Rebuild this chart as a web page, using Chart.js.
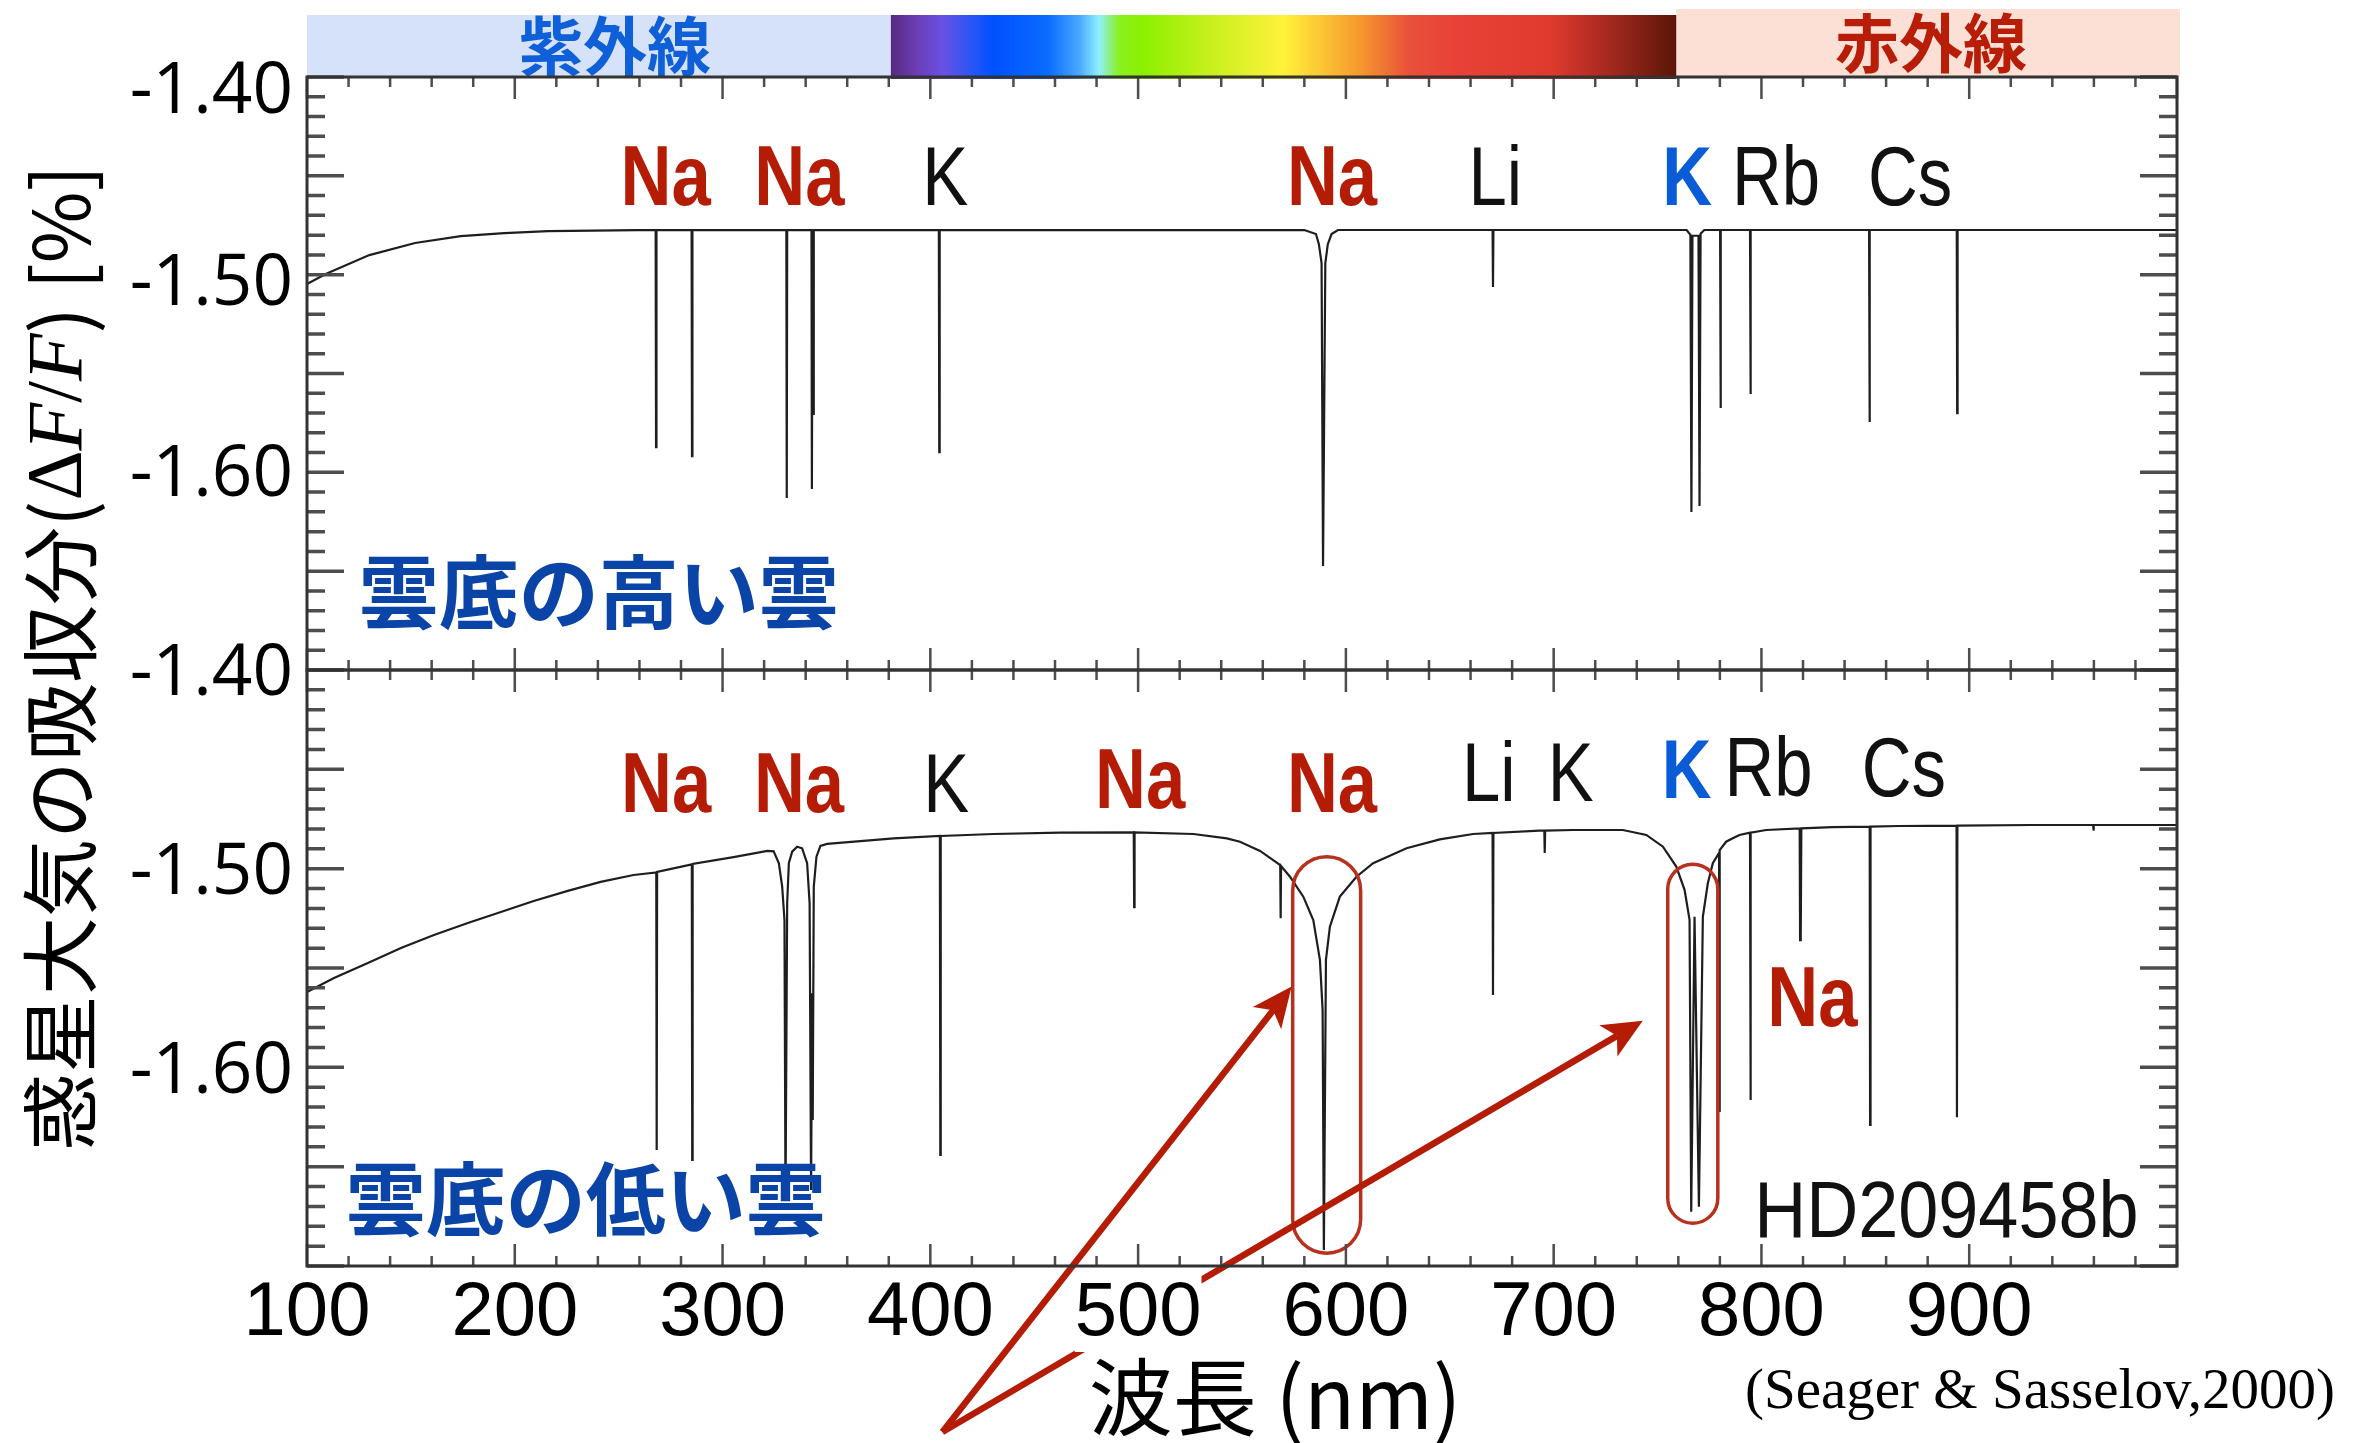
<!DOCTYPE html>
<html lang="ja">
<head>
<meta charset="utf-8">
<title>HD209458b 惑星大気の吸収スペクトル</title>
<script src="https://cdn.jsdelivr.net/npm/chart.js@4.4.1/dist/chart.umd.min.js"></script>
<style>
  html, body { margin: 0; padding: 0; background: #fff; }
  #wrap { position: relative; width: 2374px; height: 1443px; overflow: hidden; }
  canvas { position: absolute; left: 0; top: 0; }
</style>
</head>
<body>
<div id="wrap">
  <canvas id="highCloud" width="2374" height="1443"></canvas>
  <canvas id="lowCloud" width="2374" height="1443"></canvas>
</div>
<script>
// ---------------------------------------------------------------
// Spectrum data: wavelength (nm) and absorption ΔF/F (%)
// ---------------------------------------------------------------

// Upper panel: high cloud base
const highWave = [
  100, 109, 130, 152, 174, 195, 216, 259,
  267.8, 268.0, 268.2,
  285.1, 285.3, 285.5,
  330.7, 330.9, 331.1,
  342.8, 343.0, 343.3, 343.6, 343.9,
  404.1, 404.3, 404.5,
  580, 585.6, 587.0, 588.3, 589.0, 590.1, 591.3, 593.1, 596.2,
  670.6, 670.8, 671.0,
  764.0, 765.8, 766.3, 766.8, 768.2, 769.7, 770.2, 770.7, 772.5,
  780.1, 780.3, 780.5,
  794.5, 794.7, 794.9,
  851.8, 852.0, 852.2,
  894.0, 894.2, 894.4,
  1000
];
const highAbs = [
  -1.4997, -1.4945, -1.4846, -1.4783, -1.4747, -1.4731, -1.4721, -1.4716,
  -1.4716, -1.5849, -1.4716,
  -1.4716, -1.5896, -1.4716,
  -1.4716, -1.6115, -1.4716,
  -1.4716, -1.6068, -1.4716, -1.5676, -1.4716,
  -1.4716, -1.5875, -1.4716,
  -1.4715, -1.4736, -1.4789, -1.4888, -1.6470, -1.4888, -1.4789, -1.4736, -1.4715,
  -1.4715, -1.5013, -1.4715,
  -1.4715, -1.4740, -1.6188, -1.4745, -1.4745, -1.4745, -1.6157, -1.4735, -1.4715,
  -1.4715, -1.5645, -1.4715,
  -1.4715, -1.5572, -1.4715,
  -1.4715, -1.5718, -1.4715,
  -1.4715, -1.5671, -1.4715,
  -1.4715
];

// Lower panel: low cloud base
const lowWave = [
  100, 113.0, 129.3, 145.2, 161.1, 177.4, 193.3, 209.1, 225.5, 241.3, 257.2,
  268.1, 268.3, 268.5,
  285.2, 285.4, 285.6,
  305.3, 321.6, 324.6, 327.1, 328.7, 329.8, 330.3, 331.1, 331.9, 333.5,
  335.9, 338.3, 340.7, 341.9, 342.6, 343.1, 343.4, 343.9, 345.2, 347.1, 350.3,
  382.4, 404.6, 404.8, 405.0, 430.4, 462.5, 497.9, 498.1, 498.3,
  526.6, 542.7, 549.0, 558.7, 565.0, 568.4, 568.6, 568.8,
  573.1, 579.5, 584.3, 587.5, 588.8, 589.4, 590.4, 592.3, 597.1, 605.1,
  613.1, 629.2, 645.2, 661.2, 670.6, 670.8, 671.0,
  693.3, 695.5, 695.7, 695.9, 709.3, 733.3, 744.6, 752.6, 759.0, 763.0,
  765.4, 766.2, 767.8, 769.9, 771.8, 774.2, 776.6, 779.6, 779.8, 780.0,
  783.0, 786.2, 789.4, 794.5, 794.7, 794.9, 802.3,
  818.4, 818.6, 818.8, 819.0, 819.2, 834.3, 852.1, 852.3, 852.5, 866.3,
  893.9, 894.1, 894.3, 930.4, 959.6, 959.8, 960.0, 1000
];
const lowAbs = [
  -1.5593, -1.5523, -1.5447, -1.5372, -1.5307, -1.5246, -1.5191, -1.5136, -1.5085, -1.5040, -1.5005,
  -1.4992, -1.6387, -1.4990,
  -1.4952, -1.6437, -1.4950,
  -1.4915, -1.4884, -1.4886, -1.4946, -1.5064, -1.5231, -1.6638, -1.5147, -1.4946, -1.4888,
  -1.4863, -1.4871, -1.4946, -1.5147, -1.6588, -1.5600, -1.6236, -1.5064, -1.4913, -1.4859, -1.4849,
  -1.4821, -1.4809, -1.6412, -1.4809, -1.4799, -1.4792, -1.4791, -1.5167, -1.4791,
  -1.4799, -1.4821, -1.4838, -1.4884, -1.4930, -1.4955, -1.5223, -1.4960,
  -1.5014, -1.5114, -1.5231, -1.5432, -1.5683, -1.6889, -1.5432, -1.5265, -1.5114, -1.5014,
  -1.4946, -1.4871, -1.4826, -1.4799, -1.4794, -1.5608, -1.4794,
  -1.4782, -1.4782, -1.4894, -1.4782, -1.4779, -1.4779, -1.4804, -1.4863, -1.4963, -1.5080,
  -1.5231, -1.6697, -1.5215, -1.6672, -1.5215, -1.5047, -1.4946, -1.4894, -1.6196, -1.4880,
  -1.4838, -1.4821, -1.4804, -1.4792, -1.6136, -1.4792, -1.4779,
  -1.4771, -1.5332, -1.4771, -1.5332, -1.4771, -1.4765, -1.4762, -1.6261, -1.4762, -1.4759,
  -1.4757, -1.6223, -1.4757, -1.4754, -1.4754, -1.4782, -1.4754, -1.4754
];

// Axis tick labels
const waveTicks = [100, 200, 300, 400, 500, 600, 700, 800, 900];
const absTicks = [-1.60, -1.50, -1.40];

// Element labels (wavelength / absorption anchor of each label)
const highNotes = [
  { text: 'Na', wave: 272.6, abs: -1.4585, style: 'na' },
  { text: 'Na', wave: 337.0, abs: -1.4585, style: 'na' },
  { text: 'K',  wave: 407.2, abs: -1.4585, style: 'el' },
  { text: 'Na', wave: 593.3, abs: -1.4585, style: 'na' },
  { text: 'Li', wave: 671.9, abs: -1.4585, style: 'el' },
  { text: 'K',  wave: 764.2, abs: -1.4585, style: 'kb' },
  { text: 'Rb', wave: 807.0, abs: -1.4585, style: 'el' },
  { text: 'Cs', wave: 871.6, abs: -1.4585, style: 'el' },
  { text: '雲底の高い雲', wave: 240.4, abs: -1.6601, style: 'cloud' }
];
const lowNotes = [
  { text: 'Na', wave: 272.8, abs: -1.4688, style: 'na' },
  { text: 'Na', wave: 336.8, abs: -1.4688, style: 'na' },
  { text: 'K',  wave: 407.7, abs: -1.4688, style: 'el' },
  { text: 'Na', wave: 501.0, abs: -1.4668, style: 'na' },
  { text: 'Na', wave: 593.3, abs: -1.4688, style: 'na' },
  { text: 'Li', wave: 668.8, abs: -1.4633, style: 'el' },
  { text: 'K',  wave: 708.2, abs: -1.4633, style: 'el' },
  { text: 'K',  wave: 764.0, abs: -1.4618, style: 'kb' },
  { text: 'Rb', wave: 803.4, abs: -1.4608, style: 'el' },
  { text: 'Cs', wave: 868.5, abs: -1.4608, style: 'el' },
  { text: 'Na', wave: 824.5, abs: -1.5764, style: 'na' },
  { text: 'HD209458b', wave: 889.0, abs: -1.6824, style: 'id' },
  { text: '雲底の低い雲', wave: 234.1, abs: -1.6633, style: 'cloud' }
];

// Rounded outlines around the pressure-broadened Na and K lines
const highlightBoxes = [
  { wave0: 574.4, wave1: 607.1, abs0: -1.4913, abs1: -1.6906 },
  { wave0: 754.9, wave1: 779.0, abs0: -1.4951, abs1: -1.6755 }
];
// Pointer arrows (start / tip in wavelength, absorption)
const pointerArrows = [
  { from: [405.8, -1.7804], to: [573.9, -1.5566] },
  { from: [405.8, -1.7804], to: [742.9, -1.5737] }
];
// Ultraviolet / visible / infrared boundaries of the band above the plot (nm)
const bandEdges = [100, 381, 759, 1000];

// ---------------------------------------------------------------
// Styling
// ---------------------------------------------------------------
const LATIN = "'Liberation Sans', 'Arimo', sans-serif";
const SANS = "'Open Sans', 'Noto Sans', sans-serif";
const CJK = "'Noto Sans CJK JP', 'Noto Sans CJK SC', sans-serif";
const SERIF = "'Liberation Serif', 'DejaVu Serif', serif";
const RED = '#b41c06';
const BLUE = '#0a5bd6';
const DEEP_BLUE = '#0a44a6';

// squeeze: horizontal compression applied to the Latin label face
const NOTE_STYLES = {
  na:    { font: `bold 86px ${LATIN}`, color: RED, baseline: 'alphabetic', squeeze: 0.82 },
  el:    { font: `84px ${LATIN}`, color: '#111', baseline: 'alphabetic', squeeze: 0.82 },
  kb:    { font: `bold 84px ${LATIN}`, color: BLUE, baseline: 'alphabetic', squeeze: 0.82 },
  id:    { font: `80px ${LATIN}`, color: '#111', baseline: 'alphabetic', squeeze: 0.9 },
  cloud: { font: `bold 80px ${CJK}`, color: DEEP_BLUE, baseline: 'middle', squeeze: 1 }
};

// page geometry of the two stacked panels
const PAGE = { w: 2374, h: 1443, left: 307, right: 2177, top: 77, split: 670, bottom: 1266 };

const toPoints = (w, a) => w.map((x, i) => ({ x, y: a[i] }));

// ---------------------------------------------------------------
// Plugins
// ---------------------------------------------------------------

// Box frame with inward-pointing tick marks on all four sides
const panelFrame = {
  id: 'panelFrame',
  afterDraw(chart) {
    const { ctx, chartArea: a } = chart;
    const xs = chart.scales.x, fs = chart.scales.yFrame;
    ctx.save();
    ctx.strokeStyle = '#4d4d4d';
    ctx.lineWidth = 2.5;
    ctx.beginPath();
    for (let w = 100; w <= 1000; w += 20) {
      const px = xs.getPixelForValue(w);
      const len = w % 100 === 0 ? 22 : 10;
      ctx.moveTo(px, a.top); ctx.lineTo(px, a.top + len);
      ctx.moveTo(px, a.bottom); ctx.lineTo(px, a.bottom - len);
    }
    ctx.stroke();
    ctx.lineWidth = 3.5;
    ctx.beginPath();
    for (let k = 0; k <= 30; k++) {
      const py = fs.getPixelForValue(k);
      const len = k % 5 === 0 ? 37 : 18;
      ctx.moveTo(a.left, py); ctx.lineTo(a.left + len, py);
      ctx.moveTo(a.right, py); ctx.lineTo(a.right - len, py);
    }
    ctx.stroke();
    ctx.lineWidth = 3;
    ctx.strokeStyle = '#333';
    ctx.strokeRect(a.left, a.top, a.right - a.left, a.bottom - a.top);
    ctx.restore();
  }
};

function drawNotes(chart, notes) {
  const { ctx } = chart;
  const xs = chart.scales.x, ys = chart.scales.y;
  for (const n of notes) {
    const st = NOTE_STYLES[n.style];
    ctx.save();
    ctx.font = st.font;
    ctx.fillStyle = st.color;
    ctx.textAlign = 'center';
    ctx.textBaseline = st.baseline;
    ctx.translate(xs.getPixelForValue(n.wave), ys.getPixelForValue(n.abs));
    ctx.scale(st.squeeze, 1);
    ctx.fillText(n.text, 0, 0);
    ctx.restore();
  }
}

function drawArrow(ctx, x0, y0, x1, y1) {
  const ang = Math.atan2(y1 - y0, x1 - x0);
  const c = Math.cos(ang), s = Math.sin(ang);
  const headLen = 40, half = 18, notch = 30;
  const bx = x1 - headLen * c, by = y1 - headLen * s;
  const nx = x1 - notch * c, ny = y1 - notch * s;
  ctx.beginPath();
  ctx.moveTo(x0, y0);
  ctx.lineTo(nx, ny);
  ctx.stroke();
  ctx.beginPath();
  ctx.moveTo(x1, y1);
  ctx.lineTo(bx - half * s, by + half * c);
  ctx.lineTo(nx, ny);
  ctx.lineTo(bx + half * s, by - half * c);
  ctx.closePath();
  ctx.fill();
}

const highNotesPlugin = {
  id: 'highNotes',
  afterDatasetsDraw(chart) { drawNotes(chart, highNotes); }
};

const lowNotesPlugin = {
  id: 'lowNotes',
  afterDatasetsDraw(chart) {
    const { ctx } = chart;
    const xs = chart.scales.x, ys = chart.scales.y;
    drawNotes(chart, lowNotes);
    ctx.save();
    // outlines
    ctx.strokeStyle = '#b8301e';
    ctx.lineWidth = 3.5;
    for (const b of highlightBoxes) {
      const x0 = xs.getPixelForValue(b.wave0), x1 = xs.getPixelForValue(b.wave1);
      const y0 = ys.getPixelForValue(b.abs0), y1 = ys.getPixelForValue(b.abs1);
      ctx.beginPath();
      ctx.roundRect(x0, y0, x1 - x0, y1 - y0, (x1 - x0) / 2);
      ctx.stroke();
    }
    // arrows
    ctx.strokeStyle = RED;
    ctx.fillStyle = RED;
    ctx.lineWidth = 6.5;
    ctx.lineCap = 'butt';
    for (const a of pointerArrows) {
      drawArrow(ctx,
        xs.getPixelForValue(a.from[0]), ys.getPixelForValue(a.from[1]),
        xs.getPixelForValue(a.to[0]), ys.getPixelForValue(a.to[1]));
    }
    ctx.restore();
  }
};

// Ultraviolet / visible / infrared band above the upper panel
const spectrumBand = {
  id: 'spectrumBand',
  beforeDraw(chart) {
    const { ctx, chartArea: a } = chart;
    const xs = chart.scales.x;
    const xUv = a.left, xVis = xs.getPixelForValue(bandEdges[1]);
    const xIr = xs.getPixelForValue(bandEdges[2]), xEnd = a.right + 3;
    ctx.save();
    ctx.fillStyle = '#d5e2fa';
    ctx.fillRect(xUv, 15, xVis - xUv, a.top - 15);
    ctx.fillStyle = '#fde0d5';
    ctx.fillRect(xIr, 9, xEnd - xIr, a.top - 9);
    const g = ctx.createLinearGradient(xVis, 0, xIr, 0);
    [[0, '#58287e'], [0.03, '#6a3cb0'], [0.065, '#6b50e2'], [0.1, '#2f55f5'],
     [0.13, '#0050ff'], [0.2, '#0a6cff'], [0.24, '#4aa8ff'], [0.265, '#8ff0ff'],
     [0.29, '#8af020'], [0.32, '#8cf000'], [0.41, '#c9f01e'], [0.5, '#fff23a'],
     [0.55, '#fcc434'], [0.6, '#f5962e'], [0.66, '#e9503a'], [0.72, '#e84137'],
     [0.84, '#e03a2e'], [0.91, '#a82a20'], [1, '#5a1608']].forEach(([p, c]) => g.addColorStop(p, c));
    ctx.fillStyle = g;
    ctx.fillRect(xVis, 15, xIr - xVis, a.top + 2 - 15);
    ctx.font = `bold 64px ${CJK}`;
    ctx.textAlign = 'center';
    ctx.textBaseline = 'middle';
    ctx.fillStyle = '#0f5fd8';
    ctx.fillText('紫外線', 615, 46);
    ctx.fillStyle = '#b81d08';
    ctx.fillText('赤外線', 1931, 43);
    ctx.restore();
  }
};

// Axis titles and the source note
const captions = {
  id: 'captions',
  afterDraw(chart) {
    const { ctx } = chart;
    ctx.save();
    ctx.fillStyle = '#000';
    ctx.textAlign = 'center';
    ctx.textBaseline = 'middle';
    ctx.font = `84px ${CJK}`;
    ctx.fillText('波長 (nm)', 1275, 1397);
    ctx.font = `57px ${SERIF}`;
    ctx.textBaseline = 'alphabetic';
    ctx.fillText('(Seager & Sasselov,2000)', 2040, 1408);

    // vertical title spanning both panels
    const parts = [
      { t: '惑星大気の吸収分(', f: `78px ${CJK}` },
      { t: 'Δ', f: `78px ${SERIF}` },
      { t: 'F', f: `italic 78px ${SERIF}` },
      { t: '/', f: `78px ${SERIF}` },
      { t: 'F', f: `italic 78px ${SERIF}` },
      { t: ') [%]', f: `78px ${CJK}` }
    ];
    let total = 0;
    for (const p of parts) { ctx.font = p.f; p.w = ctx.measureText(p.t).width; total += p.w; }
    ctx.translate(60, 658);
    ctx.rotate(-Math.PI / 2);
    ctx.textAlign = 'left';
    ctx.textBaseline = 'middle';
    let x = -total / 2;
    for (const p of parts) { ctx.font = p.f; ctx.fillText(p.t, x, 0); x += p.w; }
    ctx.restore();
  }
};

// ---------------------------------------------------------------
// Charts
// ---------------------------------------------------------------
function panelConfig(wave, abs, yMin, yMax, padding, showX, plugins) {
  return {
    type: 'line',
    data: {
      datasets: [{
        data: toPoints(wave, abs),
        borderColor: '#1e1e1e',
        borderWidth: 2.2,
        pointRadius: 0,
        tension: 0,
        fill: false
      }]
    },
    options: {
      responsive: false,
      animation: false,
      devicePixelRatio: 1,
      events: [],
      layout: { padding },
      plugins: { legend: { display: false }, tooltip: { enabled: false } },
      scales: {
        x: {
          type: 'linear', min: 100, max: 1000, display: showX,
          afterBuildTicks: s => { s.ticks = waveTicks.map(v => ({ value: v })); },
          afterFit: s => { if (showX) s.height = PAGE.h - PAGE.bottom; },
          grid: { display: false, drawTicks: false },
          border: { display: false },
          ticks: {
            z: 1, autoSkip: false, maxRotation: 0, padding: 10, color: '#000',
            font: { family: LATIN, size: 76, lineHeight: 1.0 },
            showLabelBackdrop: true, backdropColor: '#fff',
            backdropPadding: { top: 0, bottom: 0, left: 0, right: 0 },
            callback: v => String(v)
          }
        },
        y: {
          type: 'linear', position: 'left', min: yMin, max: yMax,
          afterBuildTicks: s => { s.ticks = absTicks.map(v => ({ value: v })); },
          afterFit: s => { s.width = PAGE.left; },
          grid: { display: false, drawTicks: false },
          border: { display: false },
          ticks: {
            padding: 14, color: '#000',
            font: { family: SANS, size: 71 },
            callback: v => v.toFixed(2)
          }
        },
        yFrame: { type: 'linear', position: 'left', display: false, min: 0, max: 30 }
      }
    },
    plugins
  };
}

new Chart(document.getElementById('highCloud'), panelConfig(
  highWave, highAbs, -1.7013, -1.3916,
  { top: PAGE.top, bottom: PAGE.h - PAGE.split, left: 0, right: PAGE.w - PAGE.right },
  false, [spectrumBand, highNotesPlugin, panelFrame]));

new Chart(document.getElementById('lowCloud'), panelConfig(
  lowWave, lowAbs, -1.6970, -1.3975,
  { top: PAGE.split, bottom: 0, left: 0, right: PAGE.w - PAGE.right },
  true, [lowNotesPlugin, panelFrame, captions]));
</script>
</body>
</html>
